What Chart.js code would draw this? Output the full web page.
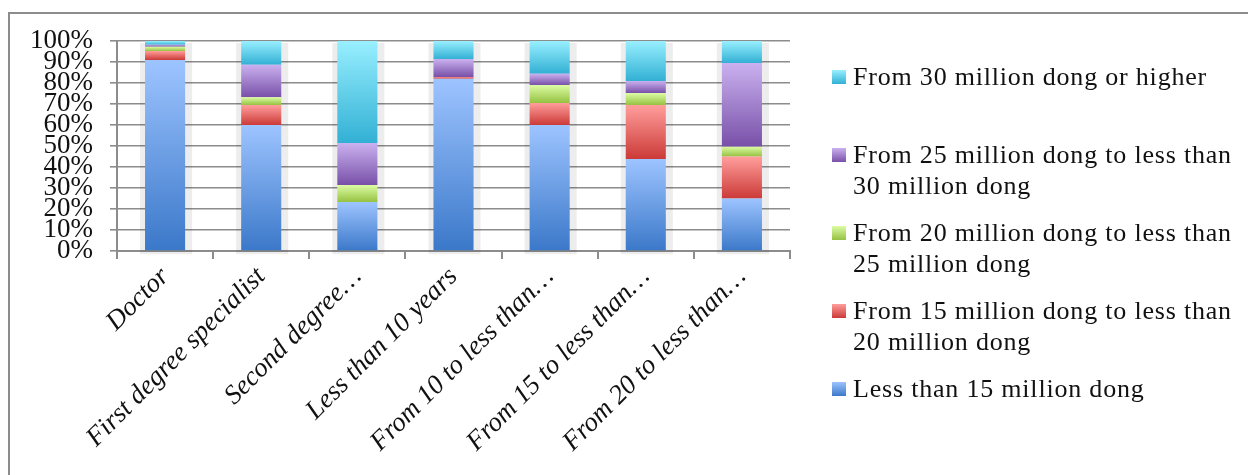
<!DOCTYPE html>
<html>
<head>
<meta charset="utf-8">
<script src="https://cdn.jsdelivr.net/npm/chart.js@4/dist/chart.umd.min.js"></script>
<style>
  body { margin: 0; background: #fff; overflow: hidden; }
  #wrap { position: relative; width: 1248px; height: 475px; }
  #frame { position: absolute; left: 8px; top: 12px; width: 1300px; height: 500px; border: 2px solid #8c8c8c; box-sizing: border-box; }
  canvas { position: absolute; left: 0; top: 0; }
  #legend { position: absolute; left: 832px; top: 61px; font-family: "Liberation Serif", serif; font-size: 26px; letter-spacing: 0.8px; color: #111; }
  .item { height: 78px; display: flex; align-items: flex-start; }
  .box { width: 14px; height: 14px; margin-top: 9px; margin-right: 7px; flex: none; }
  .txt { line-height: 31px; }
</style>
</head>
<body>
<div id="wrap">
  <div id="frame"></div>
  <canvas id="incomeChart" width="1248" height="475"></canvas>
  <div id="legend"></div>
</div>
<script>
const categories = ["Doctor", "First degree specialist", "Second degree\u2026", "Less than 10 years",
    "From 10 to less than\u2026", "From 15 to less than\u2026", "From 20 to less than\u2026"];

const seriesNames = ["Less than 15 million dong",
    "From 15 million dong to less than|20 million dong",
    "From 20 million dong to less than|25 million dong",
    "From 25 million dong to less than|30 million dong",
    "From 30 million dong or higher"];

const lessThan15 = [91, 60, 23.3, 82, 60, 43.8, 25];
const from15to20 = [4.2, 9.5, 0, 0.9, 10.5, 25.7, 20];
const from20to25 = [2.1, 3.7, 8.1, 0, 8.5, 5.7, 4.7];
const from25to30 = [0.9, 15.5, 20, 8.5, 5.4, 5.8, 39.8];
const from30up = [1.8, 11.3, 48.6, 8.6, 15.6, 19, 10.5];

const yTicks = [0, 10, 20, 30, 40, 50, 60, 70, 80, 90, 100];

// light top, dark bottom, like the old office gradient
const shades = [
    ["#9dc4ff", "#3b78c9"],
    ["#ff9e9c", "#cb3a37"],
    ["#dcfca4", "#95c141"],
    ["#cab1ef", "#7850a8"],
    ["#98efff", "#32b0d4"]
];

const allSeries = [lessThan15, from15to20, from20to25, from25to30, from30up];

function segmentFill(ctx) {
    const pair = shades[ctx.datasetIndex];
    if (ctx.type !== 'data') return pair[1];
    const y = ctx.chart.scales.y;
    if (!y || y.top === undefined) return pair[1];
    let base = 0;
    for (let d = 0; d < ctx.datasetIndex; d++) base += allSeries[d][ctx.dataIndex];
    const top = base + allSeries[ctx.datasetIndex][ctx.dataIndex];
    const y0 = y.getPixelForValue(top), y1 = y.getPixelForValue(base);
    if (!isFinite(y0) || !isFinite(y1) || y1 - y0 < 1) return pair[1];
    const g = ctx.chart.ctx.createLinearGradient(0, y0, 0, y1);
    g.addColorStop(0, pair[0]);
    g.addColorStop(1, pair[1]);
    return g;
}

const barHalo = {
    id: 'barHalo',
    beforeDatasetsDraw(chart) {
        const c = chart.ctx;
        const first = chart.getDatasetMeta(0).data;
        const last = chart.getDatasetMeta(allSeries.length - 1).data;
        c.save();
        c.fillStyle = "rgba(0,0,0,0.07)";
        first.forEach((bar, i) => {
            const w = bar.width;
            const top = last[i].y;
            c.fillRect(bar.x - w / 2 - 5, top + 2, w + 12, bar.base - top + 2);
        });
        c.restore();
    }
};

const gridColor = "#8c8c8c";

new Chart(document.getElementById("incomeChart"), {
    type: 'bar',
    data: {
        labels: categories,
        datasets: allSeries.map((vals, i) => ({
            label: seriesNames[i].replace("|", " "),
            data: vals,
            backgroundColor: segmentFill,
            borderWidth: 0,
            barPercentage: 1,
            categoryPercentage: 0.417
        }))
    },
    options: {
        responsive: false,
        animation: false,
        layout: { padding: { top: 41, right: 458, left: 0, bottom: 0 } },
        plugins: { legend: { display: false }, tooltip: { enabled: false } },
        scales: {
            x: {
                stacked: true,
                afterFit: s => { s.height = 224; },
                border: { display: true, color: gridColor, width: 2 },
                grid: { display: true, drawOnChartArea: false, offset: true, color: gridColor, lineWidth: 2, tickLength: 8 },
                ticks: {
                    autoSkip: false, maxRotation: 45, minRotation: 45, padding: 2,
                    color: "#111",
                    font: { family: "Liberation Serif", size: 27, style: "italic" }
                }
            },
            y: {
                stacked: true,
                min: 0, max: 100,
                afterFit: s => { s.width = 117; },
                afterBuildTicks: s => { s.ticks = yTicks.map(v => ({ value: v })); },
                border: { display: true, color: gridColor, width: 2 },
                grid: { color: gridColor, lineWidth: 1.6, tickLength: 7 },
                ticks: {
                    autoSkip: false, padding: 17, color: "#111",
                    callback: v => v + "%",
                    font: { family: "Liberation Serif", size: 27 }
                }
            }
        }
    },
    plugins: [barHalo]
});

// legend, top series first
const legend = document.getElementById("legend");
for (let i = seriesNames.length - 1; i >= 0; i--) {
    const item = document.createElement("div");
    item.className = "item";
    const box = document.createElement("div");
    box.className = "box";
    box.style.background = "linear-gradient(" + shades[i][0] + ", " + shades[i][1] + ")";
    const txt = document.createElement("div");
    txt.className = "txt";
    txt.innerHTML = seriesNames[i].split("|").join("<br>");
    item.appendChild(box);
    item.appendChild(txt);
    legend.appendChild(item);
}
</script>
</body>
</html>
